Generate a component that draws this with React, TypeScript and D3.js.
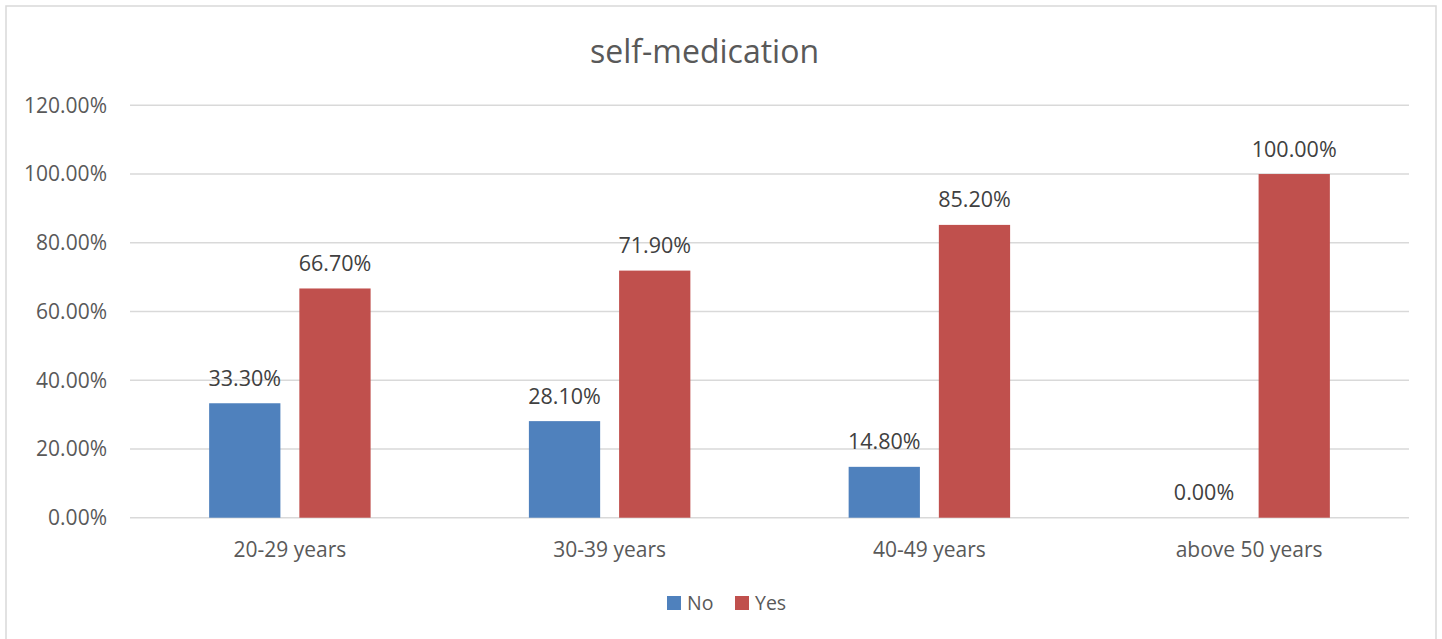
import * as d3 from 'd3';
import React, { useEffect, useRef } from 'react';

const categories = ['20-29 years', '30-39 years', '40-49 years', 'above 50 years'];
const seriesNames = ['No', 'Yes'];
const noValues = [0.333, 0.281, 0.148, 0.0];
const yesValues = [0.667, 0.719, 0.852, 1.0];
const yTicks = [0, 0.2, 0.4, 0.6, 0.8, 1.0, 1.2];
const colors = ['#4F81BD', '#C0504D'];

const FONT = '"Open Sans", sans-serif';
const TEXT = '#595959';

const App = () => {
  const ref = useRef<SVGSVGElement | null>(null);

  useEffect(() => {
    if (!ref.current) return;
    const svg = d3.select(ref.current);
    svg.selectAll('*').remove();

    const width = 1442;
    const height = 639;
    const margin = { top: 105.3, right: 33, bottom: 121.3, left: 130 };
    const plotW = width - margin.left - margin.right;
    const plotH = height - margin.top - margin.bottom;

    svg.append('rect').attr('x', 6).attr('y', 6).attr('width', 1430).attr('height', 640)
      .attr('fill', '#fff').attr('stroke', '#D9D9D9').attr('stroke-width', 1.5);

    svg.append('text').attr('x', 704.5).attr('y', 63).attr('text-anchor', 'middle')
      .attr('font-family', FONT).attr('font-size', 32).attr('fill', TEXT).text('self-medication');

    const g = svg.append('g').attr('transform', `translate(${margin.left},${margin.top})`);

    const x0 = d3.scaleBand().domain(categories).range([0, plotW]).paddingInner(0.495).paddingOuter(0.2475);
    const x1 = d3.scaleBand().domain(seriesNames).range([0, x0.bandwidth()]).paddingInner(0.21);
    const y = d3.scaleLinear().domain([0, 1.2]).range([plotH, 0]);

    yTicks.forEach((t) => {
      g.append('line').attr('x1', 0).attr('x2', plotW).attr('y1', y(t)).attr('y2', y(t))
        .attr('stroke', '#D9D9D9').attr('stroke-width', 1.5);
      g.append('text').attr('x', -23).attr('y', y(t)).attr('dy', '0.35em').attr('text-anchor', 'end')
        .attr('font-family', FONT).attr('font-size', 21).attr('fill', TEXT).text(d3.format('.2%')(t));
    });

    const rows = categories.map((c, i) => ({ cat: c, vals: [noValues[i], yesValues[i]] }));

    rows.forEach((r) => {
      const grp = g.append('g').attr('transform', `translate(${x0(r.cat)},0)`);
      r.vals.forEach((v, j) => {
        const bx = x1(seriesNames[j]) as number;
        grp.append('rect').attr('x', bx).attr('y', y(v)).attr('width', x1.bandwidth())
          .attr('height', plotH - y(v)).attr('fill', colors[j]);
        grp.append('text').attr('x', bx + x1.bandwidth() / 2).attr('y', y(v) - 17.5)
          .attr('text-anchor', 'middle').attr('font-family', FONT).attr('font-size', 21.5)
          .attr('fill', '#404040').text(d3.format('.2%')(v));
      });
      g.append('text').attr('x', (x0(r.cat) as number) + x0.bandwidth() / 2).attr('y', plotH + 39.5)
        .attr('text-anchor', 'middle').attr('font-family', FONT).attr('font-size', 21)
        .attr('fill', TEXT).text(r.cat);
    });

    const legend = svg.append('g').attr('transform', 'translate(667,596)');
    const legendX = [0, 68];
    seriesNames.forEach((s, i) => {
      legend.append('rect').attr('x', legendX[i]).attr('y', 0).attr('width', 14).attr('height', 14).attr('fill', colors[i]);
      legend.append('text').attr('x', legendX[i] + 20).attr('y', 14).attr('font-family', FONT)
        .attr('font-size', 19.5).attr('fill', TEXT).text(s);
    });
  }, []);

  return <svg ref={ref} width={1442} height={639} style={{ display: 'block', position: 'absolute', left: 0, top: 0 }} />;
};

export default App;
